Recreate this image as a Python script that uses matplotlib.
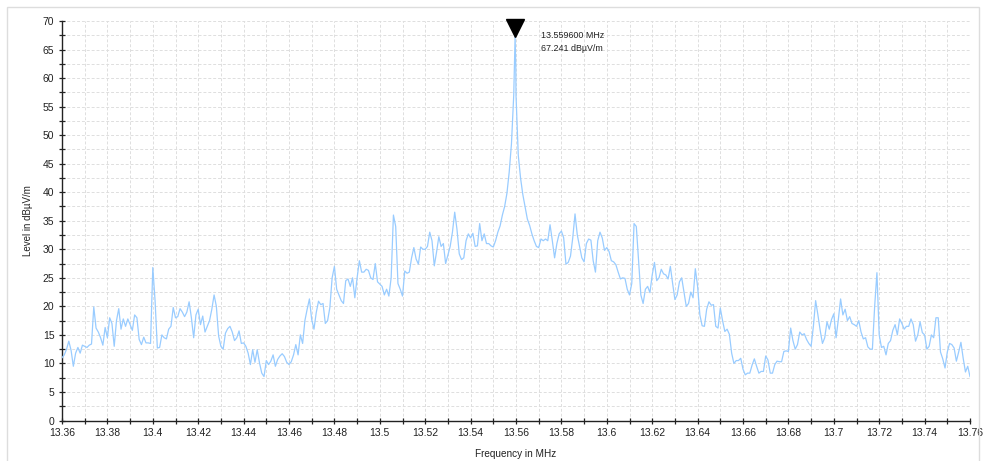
import numpy as np
import matplotlib
matplotlib.use("Agg")
import matplotlib.pyplot as plt
from matplotlib.ticker import MultipleLocator, FuncFormatter
from matplotlib.patches import Rectangle

plt.rcParams['font.family'] = ['Liberation Sans', 'DejaVu Sans']

# ---- data ----
f_start = 13.36      # MHz
f_step = 0.001       # MHz
levels = [
    11, 11.5, 12.5, 13.9, 12.3, 9.5, 11.8, 12.8, 11.8, 13.2,
    13, 12.8, 13.2, 13.4, 19.9, 16.2, 15.5, 14.5, 13.2, 16.3,
    14.5, 18, 17, 13, 17.5, 19.6, 16, 17.8, 16.5, 17.8,
    16.8, 15.8, 18.5, 18, 14.2, 13.3, 14.6, 13.6, 13.6, 13.5,
    26.8, 21, 12.7, 12.8, 15, 14.5, 14.3, 16, 16.5, 19.8,
    18, 18.2, 19.6, 19, 18.2, 19, 20.8, 18, 14.5, 18.5,
    19.5, 16.8, 18.3, 15.5, 16.5, 17.5, 19.5, 22, 20, 14.8,
    13, 12.5, 15.3, 16.1, 16.5, 15.5, 14, 14.5, 15.7, 13.5,
    13.6, 13, 11.8, 9.8, 12.4, 10.2, 12.4, 10.1, 8.3, 7.7,
    10.5, 9.8, 10.4, 11.5, 9.5, 10.7, 11.3, 11.7, 11.2, 10.2,
    9.8, 10.3, 11.5, 13.3, 11.5, 15, 13.5, 17.5, 19.5, 21.3,
    17.7, 16, 18.9, 20.9, 20.3, 20.5, 17, 17.5, 19.8, 25,
    27, 23, 22, 21, 20.5, 24.5, 24.8, 23.5, 25, 21.5,
    25, 28, 26, 26, 26.5, 26.3, 25, 24.7, 27.5, 24.3,
    23.9, 23.5, 22, 23, 21.8, 25, 36, 34, 24, 23,
    21.8, 26.2, 25.8, 26, 28.5, 30.3, 28.3, 27.4, 30.4, 30,
    30, 30.5, 33, 31.5, 27.1, 29.5, 32.2, 30.5, 31, 27.5,
    29, 30.5, 33, 36.5, 33.5, 29.2, 28.2, 28.5, 31.5, 32.7,
    32, 32.8, 30.5, 30.6, 34.5, 31.5, 32.7, 31, 31, 30.6,
    30.4, 31.5, 33, 34.1, 36, 37.5, 39.8, 43.5, 48.5, 57,
    57, 46.5, 42.5, 39.6, 37.5, 35.3, 34.2, 32.7, 31.5, 30.5,
    30.3, 31.8, 31.5, 31.8, 31.5, 34.3, 31.5, 28.5, 31, 32.7,
    33.2, 32, 27.4, 27.7, 28.8, 32, 36.2, 32.5, 30.5, 28.5,
    27.8, 31, 31.8, 31.6, 28, 26, 31.5, 33, 32, 29.8,
    30.3, 29.6, 28, 27.8, 27.3, 26, 24.8, 25, 24.9, 23,
    22, 24, 34.5, 34, 28, 22, 20.5, 23, 23.5, 22.4,
    25.5, 27.7, 24.5, 25, 26.5, 25.7, 25.5, 24.8, 27, 24,
    21.2, 22, 24.3, 25, 22.5, 20, 20.5, 22.5, 21.5, 26.6,
    23.5, 18.5, 16.6, 16.5, 19.5, 20.8, 20.2, 20.3, 16.5, 16.2,
    19.7, 17.5, 15.6, 16, 15.1, 11.8, 10, 10.5, 10.5, 10.9,
    9, 8, 8.3, 8.3, 9.7, 10.8, 9.5, 8.3, 8.6, 8.6,
    11.3, 10.6, 8.3, 8.3, 9.8, 10.4, 10.3, 10.3, 12.1, 12.2,
    12.1, 16.2, 14, 12.5, 13.3, 15.5, 15, 15.2, 14.2, 13.5,
    13, 16.5, 21, 18.5, 15.8, 13.5, 14.5, 17.3, 16, 17.7,
    18.7, 14.5, 17.7, 21.3, 18.5, 19.5, 17.5, 18.2, 17, 16.8,
    16.5, 17.5, 15.5, 14.3, 14.5, 12.9, 12.5, 12.5, 20, 25.9,
    15, 12.8, 13, 11.5, 13.5, 14, 15.8, 16.8, 15, 17.8,
    17, 16, 16.5, 16.5, 17.8, 16.8, 13.9, 15, 17.3, 15.4,
    15, 12.5, 13, 15, 14.5, 18, 18, 12, 10.8, 9.2,
    12, 13.5, 13.3, 12.7, 10.4, 12, 13.7, 10.9, 8.5, 9.5,
    7.7,
]
# extra samples on the carrier
carrier_freq = [13.5593, 13.5596, 13.5599]
carrier_level = [62.5, 67.241, 62.0]

marker_freq = 13.5596
marker_level = 67.241

x_ticks = [13.36, 13.38, 13.40, 13.42, 13.44, 13.46, 13.48, 13.50, 13.52,
           13.54, 13.56, 13.58, 13.60, 13.62, 13.64, 13.66, 13.68, 13.70,
           13.72, 13.74, 13.76]

# ---- build trace ----
freq = f_start + f_step * np.arange(len(levels))
all_f = np.concatenate([freq, carrier_freq])
all_l = np.concatenate([np.array(levels, float), carrier_level])
order = np.argsort(all_f)
all_f = all_f[order]
all_l = all_l[order]

fig = plt.figure(figsize=(9.85, 4.61), dpi=100)
ax = fig.add_axes([62/985, 1 - 420.5/461, 908/985, (420.5 - 21)/461])

ax.plot(all_f, all_l, color='#99CCFF', lw=0.9, zorder=3)

ax.set_xlim(13.36, 13.76)
ax.set_ylim(0, 70)
ax.set_xticks(x_ticks)
ax.xaxis.set_major_formatter(FuncFormatter(lambda v, p: '{:g}'.format(round(v, 2))))
ax.xaxis.set_minor_locator(MultipleLocator(0.01))
ax.yaxis.set_major_locator(MultipleLocator(5))
ax.yaxis.set_minor_locator(MultipleLocator(2.5))

ax.grid(True, which='both', color='#dedede', linestyle=(0, (3, 2)), linewidth=0.7, zorder=0)
ax.set_axisbelow(True)

for s in ['top', 'right']:
    ax.spines[s].set_visible(False)
for s in ['left', 'bottom']:
    ax.spines[s].set_color('#222222')
    ax.spines[s].set_linewidth(1.0)

ax.tick_params(axis='both', which='both', direction='inout', colors='#222222',
               labelsize=7.5, labelcolor='#222222')
ax.tick_params(axis='both', which='major', length=5, width=0.9, pad=3)
ax.tick_params(axis='both', which='minor', length=5, width=0.9)

ax.set_xlabel('Frequency in MHz', fontsize=7.2, color='#222222', labelpad=8)
ax.set_ylabel('Level in dBµV/m', fontsize=7, color='#222222', labelpad=7)

# peak marker
ax.plot([marker_freq], [marker_level + 1.55], marker='v', color='black',
        markersize=13.5, clip_on=False, zorder=5, linestyle='none')
ax.text(marker_freq + 0.0115, 66.3,
        '{:.6f} MHz\n{:.3f} dBµV/m'.format(marker_freq, marker_level),
        fontsize=6.4, color='#222222', va='center', ha='left', linespacing=1.55,
        zorder=6)

# figure frame
fig.patches.append(Rectangle((7/985, -0.05), (979 - 7)/985, 1.05 - 7/461,
                             transform=fig.transFigure, fill=False,
                             edgecolor='#dddddd', linewidth=1.0))

fig.savefig('out.png', dpi=100, facecolor='white')
